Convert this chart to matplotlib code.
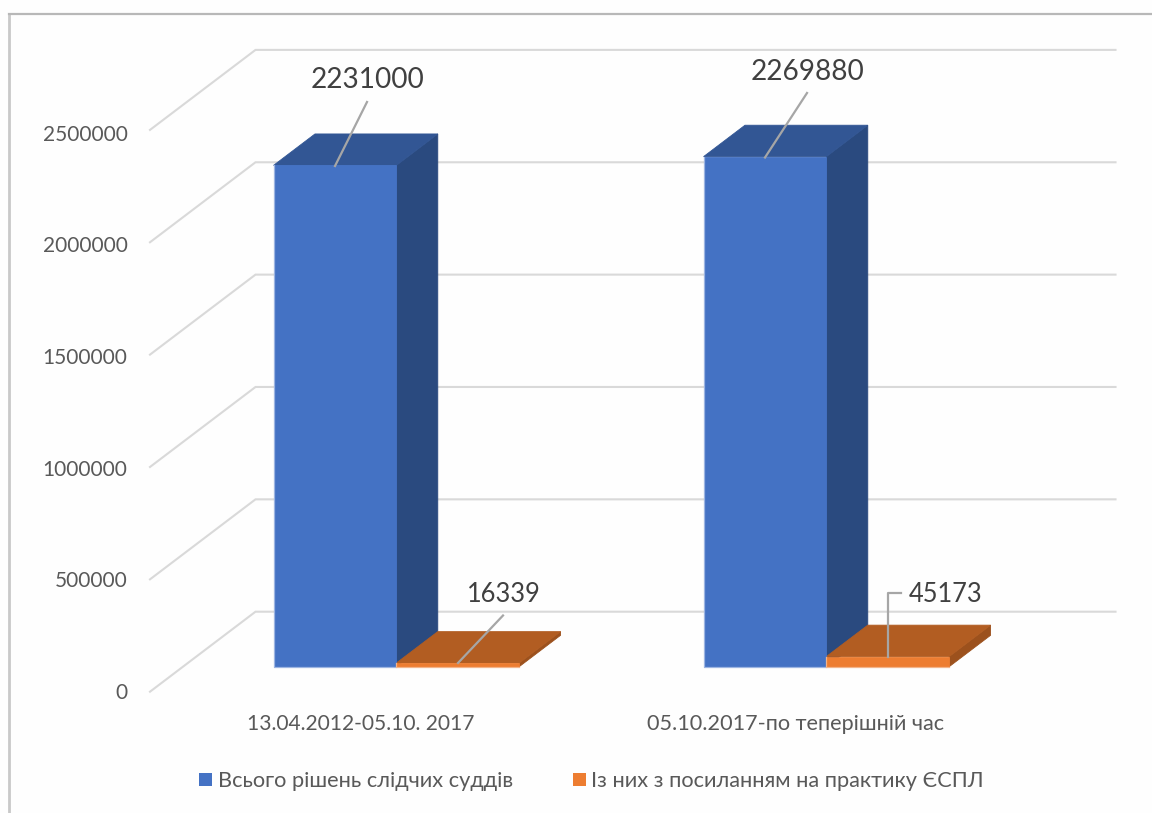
import matplotlib
matplotlib.use("Agg")
import matplotlib.pyplot as plt
from matplotlib.patches import Polygon, Rectangle
from matplotlib.lines import Line2D

categories = ["13.04.2012-05.10. 2017", "05.10.2017-по теперішній час"]
series_names = ["Всього рішень слідчих суддів", "Із них з посиланням на практику ЄСПЛ"]
total_decisions = [2231000, 2269880]
echr_decisions = [16339, 45173]
y_ticks = [0, 500000, 1000000, 1500000, 2000000, 2500000]

W, H = 1152, 813
plt.rcParams["font.family"] = ["Lato", "Open Sans", "DejaVu Sans"]
fig = plt.figure(figsize=(W / 100, H / 100), dpi=100, facecolor="#fefefe")
ax = fig.add_axes([0, 0, 1, 1])

# Scales: x=0 at 150 px, x=2 at 1010 px; y=0 at 691.7 px, 112.36 px per 500000
PX_X = 2 / 860
PX_Y = 500000 / 112.36
ax.set_xlim(-150 * PX_X, (W - 150) * PX_X)
ax.set_ylim(-(H - 691.7) * PX_Y, 691.7 * PX_Y)
ax.axis("off")

DX = 105.5 * PX_X   # full floor depth
DY = 80 * PX_Y
BAR_D0, BAR_D1 = 0.3125, 0.705
BAR_W = 122.8 * PX_X
TICK_LABEL_STRETCH = 0.993

def proj(x, v, d):
    return x + DX * d, v + DY * d

GRID = "#d9d9d9"
for v in y_ticks:
    x0, y0 = proj(0, v, 0)
    x1, y1 = proj(0, v, 1)
    x2, y2 = proj(2, v, 1)
    ax.plot([x0, x1, x2], [y0, y1, y2], color=GRID, lw=1.5, solid_joinstyle="miter", zorder=1)
    ax.text(x0 - 22.5 * PX_X, v * TICK_LABEL_STRETCH - 1 * PX_Y, str(v), ha="right", va="center",
            fontsize=15, color="#595959")

def box(x_left, value, front, top, side, edge, z):
    x_right = x_left + BAR_W
    a = proj(x_left, 0, BAR_D0)
    b = proj(x_right, 0, BAR_D0)
    c = proj(x_right, value, BAR_D0)
    d = proj(x_left, value, BAR_D0)
    b2 = proj(x_right, 0, BAR_D1)
    c2 = proj(x_right, value, BAR_D1)
    d2 = proj(x_left, value, BAR_D1)
    ax.add_patch(Polygon([b, b2, c2, c], closed=True, fc=side, ec=side, lw=0.6, zorder=z))
    ax.add_patch(Polygon([d, c, c2, d2], closed=True, fc=top, ec=top, lw=0.6, zorder=z))
    ax.add_patch(Polygon([a, b, c, d], closed=True, fc=front, ec=front, lw=0.6, zorder=z + 0.1))
    ax.plot([d[0], a[0], b[0]], [d[1], a[1], b[1]], color=edge, lw=0.9, zorder=z + 0.2)

BLUE = ("#4472c4", "#325694", "#2a4a7f", "#9db5e2")
ORANGE = ("#ed7d31", "#b25d22", "#9c511d", "#f3b48a")

for i in range(2):
    xl = i + 0.5 - BAR_W - 1.6 * PX_X
    box(xl, total_decisions[i], *BLUE, z=3)
    box(xl + BAR_W, echr_decisions[i], *ORANGE, z=3)

LEADER = "#a6a6a6"
LABEL = "#404040"
def px(xp, yp):
    return (xp - 150) * PX_X, (691.7 - yp) * PX_Y

# data labels with leader lines
ax.plot(*zip(px(335, 166), px(367, 102)), color=LEADER, lw=1.6, zorder=5)
ax.text(*px(367.5, 80.5), str(total_decisions[0]), ha="center", va="center", fontsize=20.2, color=LABEL, zorder=6)
ax.plot(*zip(px(765, 157.5), px(807, 93)), color=LEADER, lw=1.6, zorder=5)
ax.text(*px(807.5, 72.5), str(total_decisions[1]), ha="center", va="center", fontsize=20.2, color=LABEL, zorder=6)
ax.plot(*zip(px(458, 663), px(503, 615.5)), color=LEADER, lw=1.6, zorder=5)
ax.text(*px(503.5, 595), str(echr_decisions[0]), ha="center", va="center", fontsize=18.4, color=LABEL, zorder=6)
ax.plot(*zip(px(888, 657), px(888, 593), px(901, 593)), color=LEADER, lw=1.6, zorder=5)
ax.text(*px(946, 595), str(echr_decisions[1]), ha="center", va="center", fontsize=18.4, color=LABEL, zorder=6)

# category labels
ax.text(*px(360.5, 724), categories[0], ha="center", va="center", fontsize=15.1, color="#595959")
ax.text(*px(795.5, 724), categories[1], ha="center", va="center", fontsize=15.6, color="#595959")

# legend
for xp, col, name in [(199.3, BLUE[0], series_names[0]), (572.5, ORANGE[0], series_names[1])]:
    x, y = px(xp, 786.3)
    ax.add_patch(Rectangle((x, y), 13 * PX_X, 13.6 * PX_Y, fc=col, ec="none"))
    ax.text(*px(xp + 18.7, 780.5), name, ha="left", va="center", fontsize=15.7, color="#595959")

# screenshot frame
fig.add_artist(Line2D([9.3 / W, 9.3 / W], [0, 1 - 14 / H], color="#c9c9c9", lw=2))
fig.add_artist(Line2D([9 / W, 1], [1 - 14 / H, 1 - 14 / H], color="#b8b8b8", lw=1.6))

fig.savefig("out.png", dpi=100, facecolor=fig.get_facecolor())
